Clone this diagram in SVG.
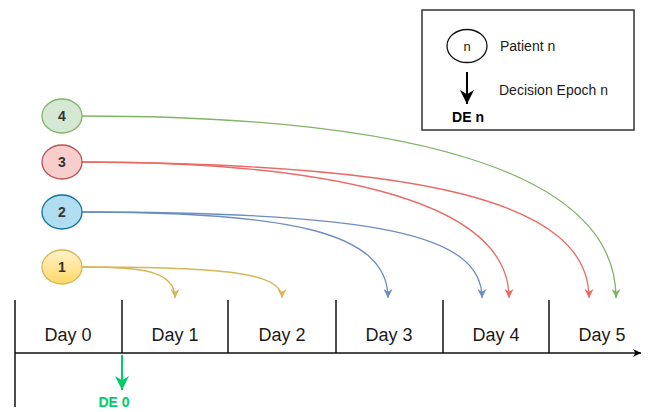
<svg xmlns="http://www.w3.org/2000/svg" width="648" height="412" viewBox="0 0 648 412">
<style>
.lbl{font-family:"Liberation Sans",Arial,sans-serif;fill:#1a1a1a}
.day{font-size:18px;text-anchor:middle}
.num{font-size:14px;font-weight:bold;text-anchor:middle;fill:#333}
.leg{font-size:14px}
.de{font-size:14px;font-weight:bold;text-anchor:middle}
.tl{stroke:#111;stroke-width:1.5;fill:none}
.cy{stroke:#d6b656;stroke-width:1.3;fill:none}
.cb{stroke:#6c8ebf;stroke-width:1.3;fill:none}
.cr{stroke:#ea6b66;stroke-width:1.3;fill:none}
.cg{stroke:#82b366;stroke-width:1.3;fill:none}
</style>
<defs>
<linearGradient id="gy" x1="0" y1="0" x2="0" y2="1"><stop offset="0" stop-color="#fff2cc"/><stop offset="1" stop-color="#ffd966"/></linearGradient>
<marker id="mY" viewBox="0 0 10 10" refX="10" refY="5" markerWidth="9" markerHeight="9" markerUnits="userSpaceOnUse" orient="auto"><path d="M0,0 L10,5 L0,10 L3,5 z" fill="#d6b656"/></marker>
<marker id="mB" viewBox="0 0 10 10" refX="10" refY="5" markerWidth="9" markerHeight="9" markerUnits="userSpaceOnUse" orient="auto"><path d="M0,0 L10,5 L0,10 L3,5 z" fill="#6c8ebf"/></marker>
<marker id="mR" viewBox="0 0 10 10" refX="10" refY="5" markerWidth="9" markerHeight="9" markerUnits="userSpaceOnUse" orient="auto"><path d="M0,0 L10,5 L0,10 L3,5 z" fill="#ea6b66"/></marker>
<marker id="mG" viewBox="0 0 10 10" refX="10" refY="5" markerWidth="9" markerHeight="9" markerUnits="userSpaceOnUse" orient="auto"><path d="M0,0 L10,5 L0,10 L3,5 z" fill="#82b366"/></marker>
<marker id="mK" viewBox="0 0 10 10" refX="10" refY="5" markerWidth="14" markerHeight="14" markerUnits="userSpaceOnUse" orient="auto"><path d="M0,0 L10,5 L0,10 L3,5 z" fill="#000"/></marker>
<marker id="mE" viewBox="0 0 10 10" refX="10" refY="5" markerWidth="14" markerHeight="14" markerUnits="userSpaceOnUse" orient="auto"><path d="M0,0 L10,5 L0,10 L3,5 z" fill="#00cc66"/></marker>
<marker id="mT" viewBox="0 0 10 10" refX="10" refY="5" markerWidth="8" markerHeight="8" markerUnits="userSpaceOnUse" orient="auto"><path d="M0,0 L10,5 L0,10 L3,5 z" fill="#000"/></marker>
</defs>
<rect width="648" height="412" fill="#fff"/>

<g id="legend">
<rect x="422" y="10" width="212" height="120" fill="#fff" stroke="#333" stroke-width="1.5"/>
<ellipse cx="467" cy="46" rx="20" ry="16.5" fill="#fff" stroke="#111" stroke-width="1.3"/>
<text class="lbl" x="467" y="51" font-size="13" text-anchor="middle">n</text>
<text class="lbl leg" x="500" y="51">Patient n</text>
<line x1="467" y1="72" x2="467" y2="104" stroke="#000" stroke-width="2" marker-end="url(#mK)"/>
<text class="lbl leg" x="499" y="95">Decision Epoch n</text>
<text class="lbl de" x="468" y="122" style="fill:#000">DE n</text>
</g>

<g id="timeline">
<line class="tl" x1="15" y1="300" x2="15" y2="407"/>
<line class="tl" x1="15" y1="353" x2="641" y2="353" marker-end="url(#mT)"/>
<line class="tl" x1="122" y1="300" x2="122" y2="353"/>
<line class="tl" x1="228" y1="300" x2="228" y2="353"/>
<line class="tl" x1="336" y1="300" x2="336" y2="353"/>
<line class="tl" x1="443" y1="300" x2="443" y2="353"/>
<line class="tl" x1="549" y1="300" x2="549" y2="353"/>
<text class="lbl day" x="68" y="341">Day 0</text>
<text class="lbl day" x="175" y="341">Day 1</text>
<text class="lbl day" x="282" y="341">Day 2</text>
<text class="lbl day" x="389" y="341">Day 3</text>
<text class="lbl day" x="496" y="341">Day 4</text>
<text class="lbl day" x="602" y="341">Day 5</text>
</g>

<g id="de0">
<line x1="122" y1="355" x2="122" y2="390" stroke="#00cc66" stroke-width="2" marker-end="url(#mE)"/>
<text class="lbl de" x="114" y="407" style="fill:#00cc66">DE 0</text>
</g>

<g id="connectors">
<path class="cy" d="M82 267 C140 267 175 270 175 298" marker-end="url(#mY)"/>
<path class="cy" d="M82 267 C220 267 282 272 282 298" marker-end="url(#mY)"/>
<path class="cb" d="M82 212 C290 212 388 232 388 298" marker-end="url(#mB)"/>
<path class="cb" d="M82 212 C380 212 482 235 482 298" marker-end="url(#mB)"/>
<path class="cr" d="M82 162 C300 162 509 192 509 298" marker-end="url(#mR)"/>
<path class="cr" d="M82 162 C420 164 589 200 589 298" marker-end="url(#mR)"/>
<path class="cg" d="M82 116 C400 116 616 168 616 298" marker-end="url(#mG)"/>
</g>

<g id="patient4">
<ellipse cx="62" cy="116" rx="20" ry="17" fill="#d5e8d4" stroke="#82b366" stroke-width="1.3"/>
<text class="lbl num" x="62" y="121">4</text>
</g>
<g id="patient3">
<ellipse cx="62" cy="162" rx="20" ry="17" fill="#f8cecc" stroke="#b85450" stroke-width="1.3"/>
<text class="lbl num" x="62" y="167">3</text>
</g>
<g id="patient2">
<ellipse cx="62" cy="212" rx="20" ry="17" fill="#b1ddf0" stroke="#10739e" stroke-width="1.3"/>
<text class="lbl num" x="62" y="217">2</text>
</g>
<g id="patient1">
<ellipse cx="62" cy="267" rx="20" ry="17" fill="url(#gy)" stroke="#d6b656" stroke-width="1.3"/>
<text class="lbl num" x="62" y="272">1</text>
</g>
</svg>
